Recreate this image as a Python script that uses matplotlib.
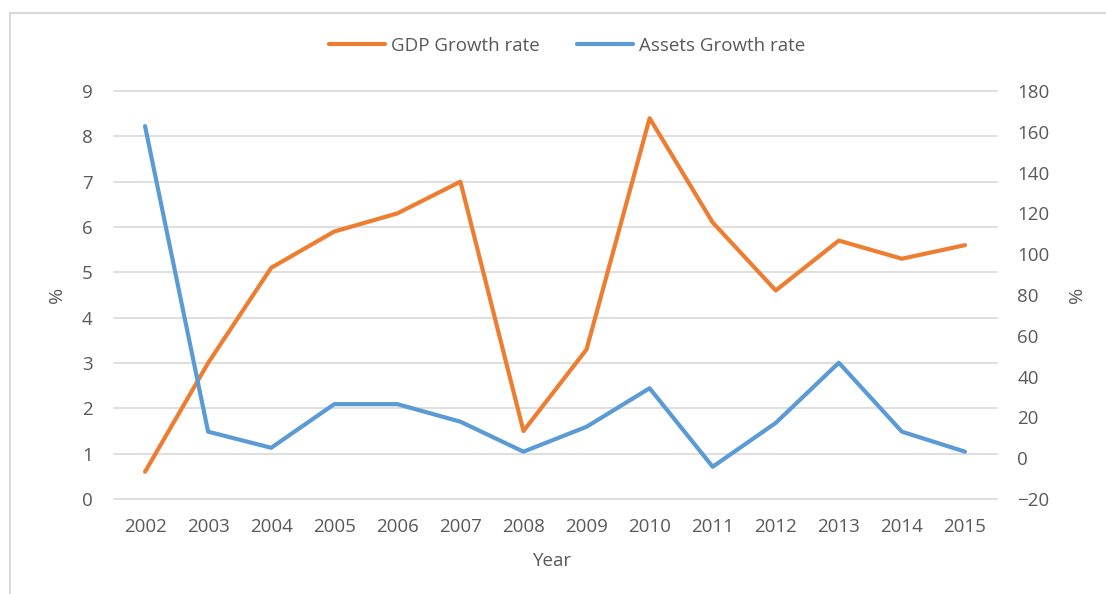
import matplotlib.pyplot as plt
from matplotlib.lines import Line2D

# Annual growth rates (%)
years = ["2002", "2003", "2004", "2005", "2006", "2007", "2008",
         "2009", "2010", "2011", "2012", "2013", "2014", "2015"]
gdp_growth = [0.6, 3.0, 5.1, 5.9, 6.3, 7.0, 1.5, 3.3, 8.4, 6.1, 4.6, 5.7, 5.3, 5.6]
assets_growth = [162.8, 13.0, 5.1, 26.5, 26.5, 17.9, 3.2, 15.4, 34.3, -4.2, 17.3, 46.8, 13.0, 3.2]

left_ticks = list(range(0, 10))
right_ticks = list(range(-20, 181, 20))

ORANGE = "#ED7D31"
BLUE = "#5B9BD5"
TEXT = "#595959"
GRID = "#d9d9d9"

plt.rcParams["font.family"] = ["Open Sans", "DejaVu Sans"]
plt.rcParams["font.size"] = 13.5

W, H = 1106, 594
fig = plt.figure(figsize=(W / 100, H / 100), dpi=100)
ax = fig.add_axes([113.5 / W, 1 - 499 / H, 883 / W, 408 / H])
ax2 = ax.twinx()

x = list(range(len(years)))
ax.plot(x, gdp_growth, color=ORANGE, lw=3, solid_capstyle="round",
        solid_joinstyle="round", label="GDP Growth rate")
ax2.plot(x, assets_growth, color=BLUE, lw=3, solid_capstyle="round",
         solid_joinstyle="round", label="Assets Growth rate")

ax.set_xlim(-0.5, len(years) - 0.5)
ax.set_ylim(0, 9)
ax.set_yticks(left_ticks)
ax2.set_ylim(-20, 180)
ax2.set_yticks(right_ticks)
ax.set_xticks(x)
ax.set_xticklabels(years)

ax.grid(axis="y", color=GRID, lw=1.2)
for gl in ax.get_ygridlines():
    gl.set_clip_on(False)
ax.set_axisbelow(True)
for a in (ax, ax2):
    for s in a.spines.values():
        s.set_visible(False)
ax.tick_params(axis="both", length=0, colors=TEXT, labelsize=13.5)
ax.tick_params(axis="y", pad=15)
ax.tick_params(axis="x", pad=14)
ax2.tick_params(axis="y", length=0, colors=TEXT, labelsize=13.5, pad=15)

fig.text(57 / W, 1 - 295 / H, "%", rotation=90, ha="center", va="center",
         color=TEXT, fontsize=14)
fig.text(1077 / W, 1 - 295 / H, "%", rotation=90, ha="center", va="center",
         color=TEXT, fontsize=14)
fig.text(553 / W, 1 - 561 / H, "Year", ha="center", va="center",
         color=TEXT, fontsize=13.5)

handles = [ax.get_lines()[0], ax2.get_lines()[0]]
fig.legend(handles, [h.get_label() for h in handles], loc="center",
           bbox_to_anchor=(567 / W, 1 - 46 / H), ncol=2, frameon=False,
           handlelength=3.0, handletextpad=0.3, columnspacing=2.0,
           labelcolor=TEXT, fontsize=13.5)

# chart frame (top and left edges)
fig.add_artist(Line2D([10 / W, 10 / W], [0, 1 - 13 / H], color=GRID, lw=1.5,
                      transform=fig.transFigure))
fig.add_artist(Line2D([10 / W, 1], [1 - 13 / H, 1 - 13 / H], color=GRID, lw=1.5,
                      transform=fig.transFigure))

fig.savefig("out.png", dpi=100)
